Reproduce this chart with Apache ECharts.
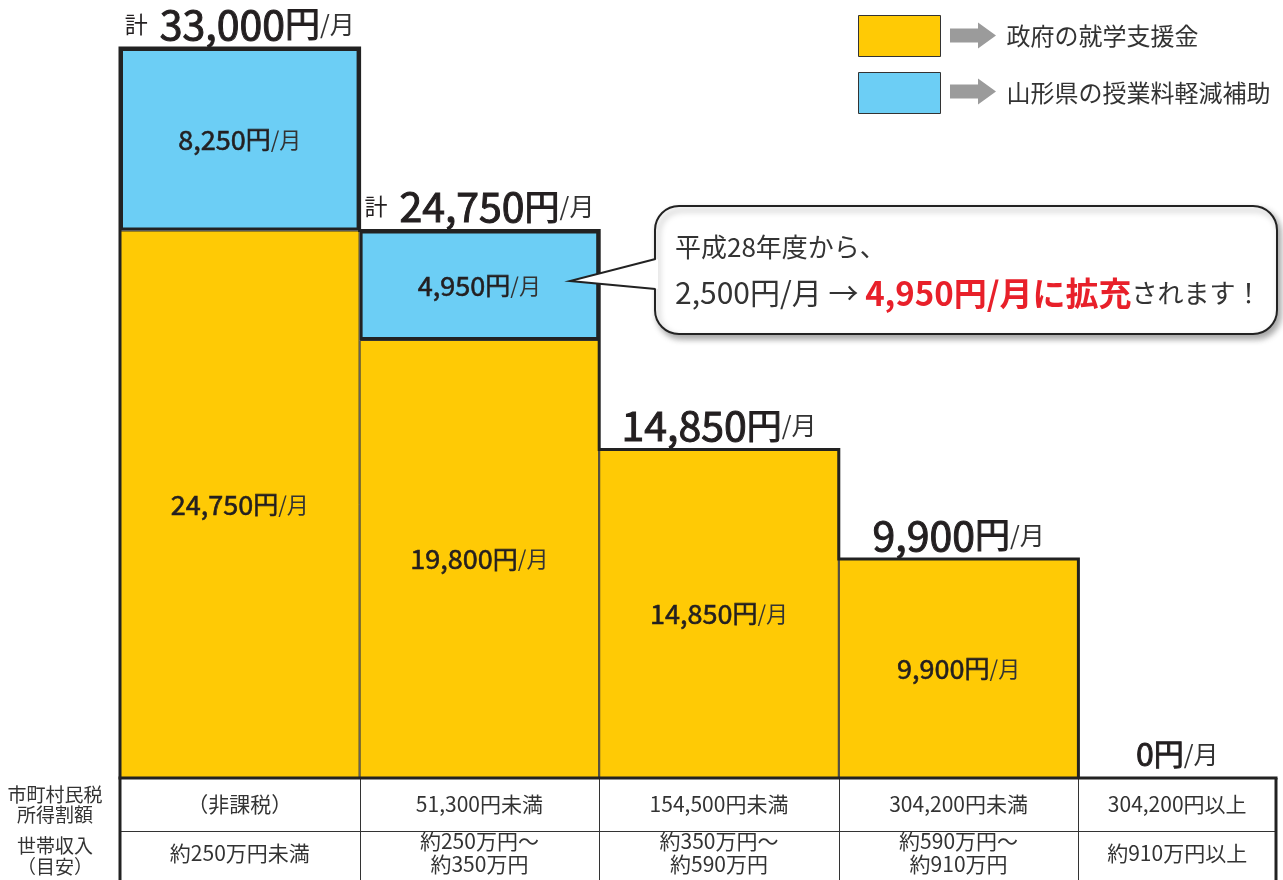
<!DOCTYPE html>
<html><head><meta charset="utf-8">
<script src="https://cdn.jsdelivr.net/npm/echarts@6/dist/echarts.min.js"></script>
<style>html,body{margin:0;padding:0;background:#fff}#c{width:1283px;height:880px}</style>
</head><body><div id="c"></div>
<script>
// ---- data ----
const seriesNames = ['政府の就学支援金', '山形県の授業料軽減補助'];
const taxBracket = ['（非課税）', '51,300円未満', '154,500円未満', '304,200円未満', '304,200円以上'];
const householdIncome = [['約250万円未満'], ['約250万円〜', '約350万円'], ['約350万円〜', '約590万円'], ['約590万円〜', '約910万円'], ['約910万円以上']];
const govSupport = [24750, 19800, 14850, 9900, 0];
const prefSupport = [8250, 4950, null, null, null];
const rowHeaders = ['市町村民税\n所得割額', '世帯収入\n（目安）'];
const calloutLine1 = '平成28年度から、';
const calloutBefore = '2,500円/月 → ';
const calloutHighlight = '4,950円/月に拡充';
const calloutAfter = 'されます！';

const FF = '"Noto Sans CJK JP", "Noto Sans", sans-serif';
const YEL = '#FFCA05', BLU = '#6CCEF5', INK = '#231F20';
const fmt = v => v.toLocaleString('en-US');
const totals = govSupport.map((g, i) => g + (prefSupport[i] || 0));

const semi = (size, w) => ({fontSize: size, color: INK, fontFamily: FF, textBorderColor: INK, textBorderWidth: w});
const insideRich = {
  n: semi(27, 0.6),
  y: semi(25, 0.6),
  m: {fontSize: 22, color: '#333', fontFamily: FF}
};
const insideLabel = {
  show: true, position: 'inside',
  formatter: p => (p.value ? '{n|' + fmt(p.value) + '}{y|円}{m|/月}' : ''),
  rich: insideRich
};

const option = {
  animation: false,
  backgroundColor: '#fff',
  textStyle: {fontFamily: FF},
  grid: {left: 120, width: 1198, top: 48, bottom: 102, containLabel: false, outerBoundsMode: 'none'},
  legend: {
    orient: 'vertical', left: 858, top: 15, padding: 0, itemWidth: 82, itemHeight: 41, itemGap: 15,
    icon: 'rect', selectedMode: false,
    itemStyle: {borderColor: '#333', borderWidth: 1},
    textStyle: {fontSize: 24, color: '#333', fontFamily: FF, padding: [0, 0, 0, 61]},
    data: seriesNames
  },
  xAxis: {
    type: 'category', data: taxBracket,
    axisLine: {show: false}, axisTick: {show: false}, splitLine: {show: false},
    axisLabel: {
      margin: 0, interval: 0, hideOverlap: false,
      formatter: (v, i) => {
        const s = i === 4 ? '5' : '';
        const inc = householdIncome[i];
        return '{a' + s + '|' + v + '}\n' + (inc.length === 1 ? '{c' + s + '|' + inc[0] + '}'
          : inc.map(t => '{b' + s + '|' + t + '}').join('\n'));
      },
      rich: (() => {
        const base = {fontSize: 21, color: '#333', fontFamily: FF, align: 'center'};
        const r = {
          a: Object.assign({}, base, {lineHeight: 52}),
          b: Object.assign({}, base, {lineHeight: 23}),
          c: Object.assign({}, base, {lineHeight: 46})
        };
        ['a', 'b', 'c'].forEach(k => { r[k + '5'] = Object.assign({}, r[k], {padding: [0, 42, 0, 0]}); });
        return r;
      })()
    }
  },
  yAxis: {type: 'value', min: 0, max: 33000, show: false, splitLine: {show: false}},
  series: [
    {
      name: seriesNames[0], type: 'bar', stack: 'all', barCategoryGap: 0,
      itemStyle: {color: YEL, borderColor: '#333', borderWidth: 1},
      label: insideLabel,
      data: govSupport.map(v => (v ? v : {value: v, itemStyle: {borderWidth: 0}}))
    },
    {
      name: seriesNames[1], type: 'bar', stack: 'all', barCategoryGap: 0,
      itemStyle: {color: BLU, borderColor: '#222', borderWidth: 3},
      label: insideLabel,
      data: prefSupport.map(v => (v == null ? '-' : v))
    },
    {
      name: 'total', type: 'bar', stack: 'all', barCategoryGap: 0,
      itemStyle: {color: 'rgba(0,0,0,0)', borderWidth: 0},
      label: {
        show: true, position: 'top', distance: 4,
        formatter: p => {
          const i = p.dataIndex, t = totals[i];
          if (t === 0) return '{n2|' + fmt(t) + '}{y2|円}{m|/月}';
          return (prefSupport[i] ? '{k|計}{sp|}' : '') + '{n|' + fmt(t) + '}{y|円}{m|/月}';
        },
        rich: {
          k: {fontSize: 23, color: INK, fontFamily: FF, lineHeight: 40},
          sp: {width: 12, lineHeight: 40},
          n: Object.assign(semi(41, 1.0), {lineHeight: 40}),
          y: Object.assign(semi(35, 1.0), {lineHeight: 40}),
          n2: Object.assign(semi(32, 0.9), {lineHeight: 40}),
          y2: Object.assign(semi(30, 0.9), {lineHeight: 40}),
          m: {fontSize: 25, color: '#333', fontFamily: FF, lineHeight: 40}
        }
      },
      data: totals.map((t, i) => (i === 4 ? {value: 0, label: {offset: [-21, 0]}} : 0))
    }
  ]
};

const chart = echarts.init(document.getElementById('c'));
chart.setOption(option);

// ---- decorations derived from the axes ----
const P = (i, v) => chart.convertToPixel({xAxisIndex: 0, yAxisIndex: 0}, [i, v]);
const bw = P(1, 0)[0] - P(0, 0)[0];
const y0 = P(0, 0)[1];
const pts = [[P(0, 0)[0] - bw / 2, y0]];
totals.forEach((t, i) => {
  if (t > 0) { const c = P(i, t); pts.push([c[0] - bw / 2, c[1]], [c[0] + bw / 2, c[1]]); }
});
pts.push([pts[pts.length - 1][0], y0]);

const tableLeft = P(0, 0)[0] - bw / 2;
const tableRight = 1276;
const rowSep = y0 + 53;
const H = 880;
const g = [];
g.push({type: 'polyline', z: 100, shape: {points: pts}, style: {stroke: '#222', lineWidth: 3, fill: null, lineJoin: 'miter'}});
for (let i = 1; i < 5; i++) {
  const x = Math.round(P(i, 0)[0] - bw / 2) + 0.5;
  g.push({type: 'line', z: 90, shape: {x1: x, y1: y0, x2: x, y2: H}, style: {stroke: '#333', lineWidth: 1}});
}
g.push({type: 'line', z: 90, shape: {x1: tableLeft, y1: rowSep + 0.5, x2: tableRight, y2: rowSep + 0.5}, style: {stroke: '#333', lineWidth: 1}});
g.push({type: 'line', z: 101, shape: {x1: tableLeft - 1.5, y1: y0, x2: tableRight + 1.5, y2: y0}, style: {stroke: '#222', lineWidth: 3}});
g.push({type: 'line', z: 101, shape: {x1: tableLeft, y1: y0, x2: tableLeft, y2: H}, style: {stroke: '#222', lineWidth: 3}});
g.push({type: 'line', z: 101, shape: {x1: tableRight, y1: y0, x2: tableRight, y2: H}, style: {stroke: '#222', lineWidth: 3}});
// row headers
g.push({type: 'text', z: 101, x: 55, y: (y0 + rowSep) / 2, style: {text: rowHeaders[0], fontSize: 19, lineHeight: 20, fill: '#333', fontFamily: FF, align: 'center', verticalAlign: 'middle'}});
g.push({type: 'text', z: 101, x: 55, y: (rowSep + H) / 2 + 1, style: {text: rowHeaders[1], fontSize: 19, lineHeight: 21, fill: '#333', fontFamily: FF, align: 'center', verticalAlign: 'middle'}});
// legend arrows
[35.5, 91.5].forEach(cy => {
  g.push({type: 'polygon', z: 101, shape: {points: [[950, cy - 7], [978, cy - 7], [978, cy - 13], [996, cy], [978, cy + 13], [978, cy + 7], [950, cy + 7]]}, style: {fill: '#9B9B9B'}});
});
// callout bubble
g.push({type: 'rect', z: 110, shape: {x: 655, y: 206, width: 622, height: 128, r: 24},
  style: {fill: '#fff', stroke: '#222', lineWidth: 2, shadowBlur: 6, shadowOffsetX: 3, shadowOffsetY: 4, shadowColor: 'rgba(0,0,0,0.35)'}});
g.push({type: 'polygon', z: 111, shape: {points: [[658, 259], [570, 281], [658, 289]]}, style: {fill: '#fff'}});
g.push({type: 'polyline', z: 112, shape: {points: [[655.5, 259], [570, 281], [655.5, 289]]}, style: {stroke: '#222', lineWidth: 2, fill: null}});
g.push({type: 'text', z: 113, x: 675, y: 247, style: {text: calloutLine1, fontSize: 26, fill: '#333', fontFamily: FF, verticalAlign: 'middle'}});
g.push({type: 'text', z: 113, x: 675, y: 293, style: {
  text: '{r|' + calloutBefore + '}{h|' + calloutHighlight + '}{s|' + calloutAfter + '}', verticalAlign: 'middle',
  rich: {
    r: {fontSize: 30, fill: '#333', fontFamily: FF},
    h: {fontSize: 33, fontWeight: 'bold', fill: '#E8202A', fontFamily: FF},
    s: {fontSize: 26, fill: '#333', fontFamily: FF}
  }
}});
chart.setOption({graphic: g});
</script>
</body></html>
